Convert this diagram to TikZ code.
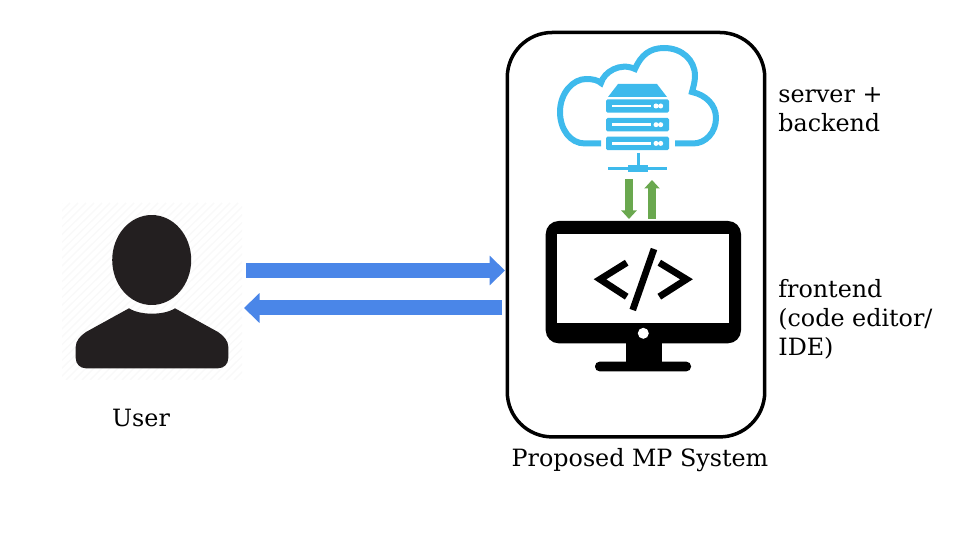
\documentclass[tikz,border=0pt]{standalone}
\usepackage{fontspec}
\setmainfont{DejaVu Serif}
\usetikzlibrary{arrows.meta,positioning}
\definecolor{flowblue}{RGB}{74,134,232}
\definecolor{flowgreen}{RGB}{106,168,79}
\definecolor{cloudcol}{RGB}{62,186,236}
\definecolor{usercol}{RGB}{35,31,32}
\tikzset{
  lab/.style={font=\fontsize{13.55}{16.5}\selectfont,align=left,inner sep=0pt},
  bigarrow/.style={flowblue,line width=0.30cm,-{Triangle[length=0.31cm,width=0.58cm]}},
  smallarrow/.style={flowgreen,line width=0.17cm,-{Triangle[length=0.17cm,width=0.30cm]}},
  unit/.style={cloudcol!100,fill=cloudcol,rounded corners=0.03cm},
  code/.style={line width=0.135cm,miter limit=10}
}

\begin{document}
\begin{tikzpicture}[x=0.02cm,y=-0.02cm,>=Stealth]
  \useasboundingbox (0,0) rectangle (960,540);
  % faint backdrop of the user icon
  \begin{scope}
    \clip (62,203) rectangle (242,380);
    \foreach \d in {0,8,...,360}
      \draw[black!2.5,line width=0.03cm] (62+\d-180,380) -- (62+\d,203);
  \end{scope}
  \node[minimum width=3.6cm,minimum height=3.54cm,inner sep=0pt] (user) at (152,291.5) {};
  % user icon
  \fill[usercol] (151.7,260) ellipse [x radius=0.79cm,y radius=0.90cm];
  \fill[usercol] (129,308.3) .. controls (140,315.5) and (164,315.5) .. (175,308.3)
     -- (218,332) .. controls (224,336) and (228.3,341) .. (228.3,347)
     -- (228.3,358) .. controls (228.3,364) and (224,368.3) .. (218,368.3)
     -- (86,368.3) .. controls (80,368.3) and (75.7,364) .. (75.7,358)
     -- (75.7,347) .. controls (75.7,341) and (80,336) .. (86,332) -- cycle;
  \node[lab] (userlab) at (141,417.5) {User};

  % system box
  \node[draw,line width=0.07cm,rounded corners=0.9cm,minimum width=5.15cm,minimum height=8.09cm,inner sep=0pt] (system) at (636,234.7) {};
  \node[lab] (syslab) at (640,460) {Proposed MP System};

  % cloud
  \draw[cloudcol,line width=0.12cm] (601,143.5) -- (585,143.5)
     .. controls (570,143.5) and (560,129) .. (560,112)
     .. controls (560,93) and (573,79) .. (586,79)
     .. controls (592,79) and (598,80) .. (601,83)
     .. controls (604,72) and (620,62) .. (635,69)
     .. controls (641,55) and (650,48) .. (664,48)
     .. controls (682,48) and (695,60) .. (695,76)
     .. controls (695,82) and (693,88) .. (692,92)
     .. controls (706,95) and (716,105) .. (716,118)
     .. controls (716,132) and (706,143.5) .. (693,143.5) -- (675,143.5);
  % server
  \fill[cloudcol] (618,84) -- (657,84) -- (667,97) -- (608,97) -- cycle;
  \foreach \y in {99.3,118,136.7} {
    \fill[unit] (606,\y) rectangle (669,\y+13.4);
    \draw[white,line width=0.05cm] (612,\y+6.7) -- (651,\y+6.7);
    \fill[white] (656,\y+6.7) circle (0.05cm) (660.7,\y+6.7) circle (0.05cm);
  }
  \draw[cloudcol,line width=0.07cm] (638.3,153) -- (638.3,168);
  \draw[cloudcol,line width=0.07cm] (608,168.3) -- (667,168.3);
  \fill[cloudcol] (628,165) rectangle (648,171.7);
  \node[lab,anchor=west] (serverlab) at (778,110) {server +\\backend};

  % monitor
  \fill[black,rounded corners=0.26cm] (545.7,221) rectangle (741,343.3);
  \fill[white] (557,234) rectangle (729,323.3);
  \fill[white] (643.3,333.3) circle (0.11cm);
  \fill[black] (625.7,343) rectangle (661.7,363);
  \fill[black,rounded corners=0.09cm] (595,361.7) rectangle (691,371.3);
  \draw[code] (626.7,262.7) -- (600,279.3) -- (626.7,296.7);
  \draw[code] (659.3,262.7) -- (686.5,279.3) -- (659.3,296.7);
  \draw[code] (654,249) -- (632.7,310);
  \node[lab,anchor=west] (frontlab) at (778,319.5) {frontend\\(code editor/\\IDE)};

  % arrow ends
  \coordinate (ua) at (246,270.5);
  \coordinate (sa) at (505,270.5);
  \coordinate (sb) at (502,308);
  \coordinate (ub) at (244,308);
  \coordinate (cd) at (629,179);
  \coordinate (md) at (629,219);
  \coordinate (mu) at (652,219);
  \coordinate (cu) at (652,180);
  \draw[bigarrow] (ua) -- (sa);
  \draw[bigarrow] (sb) -- (ub);
  \draw[smallarrow] (cd) -- (md);
  \draw[smallarrow] (mu) -- (cu);
\end{tikzpicture}
\end{document}
